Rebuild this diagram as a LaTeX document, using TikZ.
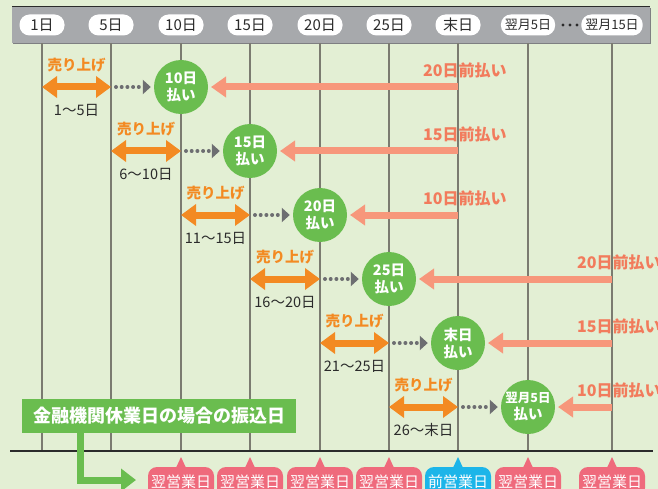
\documentclass[tikz,border=0pt]{standalone}
\usepackage{fontspec}
\setmainfont{Noto Sans CJK JP}
\usetikzlibrary{arrows.meta,positioning}
\definecolor{bg}{HTML}{E3EFD4}
\definecolor{barg}{HTML}{A7A9AC}
\definecolor{barshade}{HTML}{7E7F82}
\definecolor{colline}{HTML}{7B7B70}
\definecolor{payg}{HTML}{6ABD4F}
\definecolor{sales}{HTML}{F38A22}
\definecolor{pre}{HTML}{F7977B}
\definecolor{pretxt}{HTML}{F27B5C}
\definecolor{dotg}{HTML}{6D6E71}
\definecolor{ink}{HTML}{2B2B2B}
\definecolor{nextp}{HTML}{EF6A7C}
\definecolor{prevb}{HTML}{1CB5E9}
\tikzset{
  pill/.style={fill=white, rounded corners=10pt, minimum height=21pt, minimum width=45pt,
    inner xsep=4pt, inner ysep=0pt, text=ink, font=\fontsize{15}{16}\selectfont},
  col/.style={draw=colline, line width=1.5pt},
  pay/.style={circle, fill=payg, minimum size=54pt, inner sep=-10pt, align=center,
    text=white, font=\bfseries\fontsize{14.5}{17}\selectfont},
  sale/.style={sales, line width=7pt, {Triangle[length=15pt,width=21pt]}-{Triangle[length=15pt,width=21pt]}},
  saletxt/.style={text=sales, font=\bfseries\fontsize{14.5}{16}\selectfont},
  rangetxt/.style={text=ink, font=\fontsize{14.5}{16}\selectfont},
  dots/.style={dotg, line width=4pt, line cap=round, dash pattern=on 0pt off 5.7pt,
    -{Triangle[length=8pt,width=14pt]}, shorten >=3pt},
  prepay/.style={pre, line width=7pt, -{Triangle[length=15pt,width=20pt]}, shorten >=3pt},
  pretxtstyle/.style={text=pretxt, font=\bfseries\fontsize{16}{17}\selectfont, inner sep=0pt},
  bubble/.style={rounded corners=9pt, minimum width=66pt, minimum height=30pt, inner sep=0pt,
    text=white, font=\fontsize{15}{17}\selectfont}
}
\begin{document}
\begin{tikzpicture}[x=1pt,y=-1pt]
\useasboundingbox (0,0) rectangle (658,489);
\clip (0,0) rectangle (658,489);
\fill[bg] (0,0) rectangle (658,489);
\fill[barshade] (13,8) rectangle (651,44);
\fill[barg] (12,7) rectangle (650,43);
\draw[ink, line width=1pt] (12,7) -- (650,7);

\coordinate (top) at (0,25);
\coordinate (base) at (0,451);
\foreach \n/\x in {1/42,2/111,3/181,4/250,5/320,6/389,7/458,8/528,9/612}
{
  \coordinate (c\n) at (\x,43);
  \draw[col] (c\n) -- (c\n |- base);
}
\draw[ink, line width=1.2pt] (10,451) -- (653,451);

\foreach \n/\t in {1/1日,2/5日,3/10日,4/15日,5/20日,6/25日,7/末日}
  \node[pill] (d\n) at (c\n |- top) {\t};
\node[pill, font=\fontsize{13}{14}\selectfont] (d8) at (c8 |- top) {翌月5日};
\node[pill, font=\fontsize{13}{14}\selectfont] (d9) at (c9 |- top) {翌月15日};
\foreach \x in {563,570,577}
  \fill[ink] (\x,25) circle (1.6pt);

\foreach \r/\xa/\xb/\xc/\xs/\rng/\pay/\pre in {
  1/42/111/181/458/1〜5日/10日/20日,
  2/111/181/250/458/6〜10日/15日/15日,
  3/181/250/320/458/11〜15日/20日/10日,
  4/250/320/389/612/16〜20日/25日/20日,
  5/320/389/458/612/21〜25日/末日/15日,
  6/389/458/528/612/26〜末日/{\fontsize{12.5}{15}\selectfont 翌月5日}/10日}
{
  \pgfmathsetmacro\y{87+64*(\r-1)}
  \coordinate (sa\r) at (\xa,\y);
  \coordinate (sb\r) at (\xb,\y);
  \coordinate (s\r) at (\xs,\y);
  \draw[prepay] (s\r) -- (\xc+27,\y);
  \node[pay] (p\r) at (\xc,\y) {\pay\\払い};
  \draw[sale] (sa\r) -- (sb\r);
  \node[saletxt] (u\r) at ({(\xa+\xb)/2},{\y-22}) {売り上げ};
  \node[rangetxt] (g\r) at ({(\xa+\xb)/2},{\y+23}) {\rng};
  \draw[dots] ([xshift=5pt]sb\r) -- (p\r);
  \node[pretxtstyle, anchor=west] (f\r) at ({\xs-35},{\y-17}) {\pre 前払い};
}

\node[fill=payg, minimum width=274pt, minimum height=34pt, text=white,
  font=\bfseries\fontsize{18}{19}\selectfont] (holiday) at (159,416) {金融機関休業日の場合の振込日};
\coordinate (holend) at (136,480);
\draw[payg, line width=7pt, -{Triangle[length=15pt,width=22pt]}] ([xshift=-79pt]holiday.south) |- (holend);

\foreach \n/\x/\t/\cl in {3/181/翌営業日/nextp,4/250/翌営業日/nextp,5/320/翌営業日/nextp,
  6/389/翌営業日/nextp,7/458/前営業日/prevb,8/528/翌営業日/nextp,9/612/翌営業日/nextp}
{
  \node[bubble, fill=\cl] (b\n) at (\x,482) {\t};
  \fill[\cl] ([xshift=-5pt,yshift=-1pt]b\n.north) -- (\x,457) -- ([xshift=5pt,yshift=-1pt]b\n.north) -- cycle;
}
\end{tikzpicture}
\end{document}
